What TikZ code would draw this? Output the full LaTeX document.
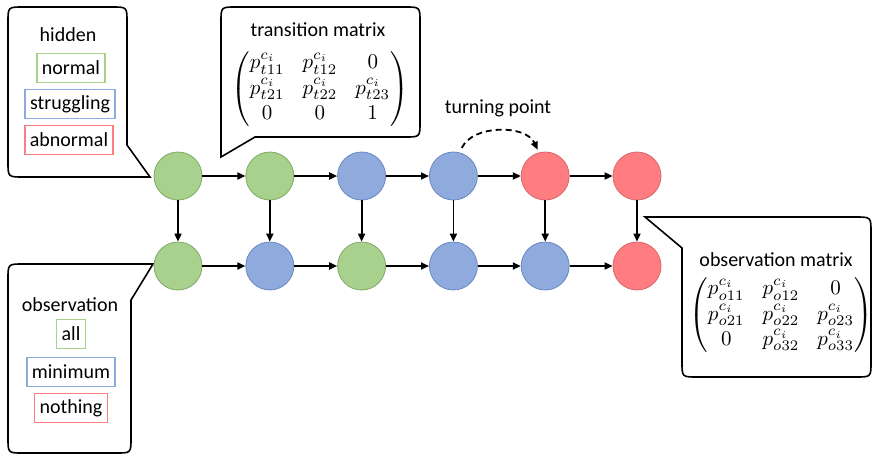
\documentclass[tikz,border=0pt]{standalone}
\usepackage{amsmath}
\usepackage{graphicx}
\usepackage{fontspec}
\setmainfont{Carlito}
\usetikzlibrary{arrows.meta}
\definecolor{gfill}{HTML}{A9D18E}
\definecolor{gline}{HTML}{7FA866}
\definecolor{bfill}{HTML}{8FAADC}
\definecolor{bline}{HTML}{6A88C0}
\definecolor{rfill}{HTML}{FF7C80}
\definecolor{rline}{HTML}{D9656A}
\tikzset{
  st/.style={circle, draw, line width=0.8pt, minimum size=48pt, inner sep=0pt},
  gst/.style={st, fill=gfill, draw=gline},
  bst/.style={st, fill=bfill, draw=bline},
  rst/.style={st, fill=rfill, draw=rline},
  conn/.style={line width=1.8pt, -{Triangle[length=8pt,width=7pt]}},
  callout/.style={line width=1.6pt, draw=black, fill=white},
  lbl/.style={font=\fontsize{20}{24}\selectfont, inner sep=0pt},
  legend/.style={font=\fontsize{20}{24}\selectfont, line width=1.3pt, inner xsep=5pt, minimum height=29pt, inner ysep=0pt},
  mat/.style={inner sep=0pt},
}
\newcommand{\matscale}[1]{\scalebox{2.1}{$\setlength{\arraycolsep}{4.3pt}#1$}}
\begin{document}
\begin{tikzpicture}[x=1pt,y=-1pt]
\useasboundingbox (0,0) rectangle (876,456);
% callouts
\draw[callout] (23,7) -- (112,7) .. controls (127,7) .. (127,22) -- (127,145) -- (150,177)
  -- (23,177) .. controls (8,177) .. (8,162) -- (8,22) .. controls (8,7) .. (23,7) -- cycle;
\draw[callout] (236,7) -- (405,7) .. controls (420,7) .. (420,22) -- (420,122) .. controls (420,137) .. (405,137)
  -- (255,137) -- (221,157) -- (221,22) .. controls (221,7) .. (236,7) -- cycle;
\draw[callout] (23,264) -- (153,264) -- (131,300) -- (131,438) .. controls (131,453) .. (116,453)
  -- (23,453) .. controls (8,453) .. (8,438) -- (8,279) .. controls (8,264) .. (23,264) -- cycle;
\draw[callout] (645,217) -- (855,217) .. controls (871,217) .. (871,232) -- (871,362) .. controls (871,377) .. (856,377)
  -- (697,377) .. controls (682,377) .. (682,362) -- (682,248) -- cycle;
% legend texts
\node[lbl] (hid) at (68,35) {hidden};
\node[legend, draw=gfill] (lnorm) at (71,68) {normal};
\node[legend, draw=bfill] (lstr) at (70,104) {struggling};
\node[legend, draw=rfill] (labn) at (69,140) {abnormal};
\node[lbl] (obs) at (70,305) {observation};
\node[legend, draw=gfill] (lall) at (71,334) {all};
\node[legend, draw=bfill] (lmin) at (71,372) {minimum};
\node[legend, draw=rfill] (lnot) at (71,408) {nothing};
% matrices
\node[lbl] (tmt) at (318,30) {transition matrix};
\node[mat] (tm) at (320,89) {\matscale{\begin{pmatrix}
p^{c_i}_{t11} & p^{c_i}_{t12} & 0\\
p^{c_i}_{t21} & p^{c_i}_{t22} & p^{c_i}_{t23}\\
0 & 0 & 1\end{pmatrix}}};
\node[lbl] (omt) at (776,260) {observation matrix};
\node[mat] (om) at (781,315) {\matscale{\begin{pmatrix}
p^{c_i}_{o11} & p^{c_i}_{o12} & 0\\
p^{c_i}_{o21} & p^{c_i}_{o22} & p^{c_i}_{o23}\\
0 & p^{c_i}_{o32} & p^{c_i}_{o33}\end{pmatrix}}};
\node[lbl] (tp) at (498,108) {turning point};
% states
\node[gst] (h1) at (178,176) {};
\node[gst] (h2) at (269.8,176) {};
\node[bst] (h3) at (361.6,176) {};
\node[bst] (h4) at (453.4,176) {};
\node[rst] (h5) at (545.2,176) {};
\node[rst] (h6) at (637,176) {};
\node[gst] (o1) at (178,266) {};
\node[bst] (o2) at (269.8,266) {};
\node[gst] (o3) at (361.6,266) {};
\node[bst] (o4) at (453.4,266) {};
\node[bst] (o5) at (545.2,266) {};
\node[rst] (o6) at (637,266) {};
\foreach \a/\b in {h1/h2,h2/h3,h3/h4,h4/h5,h5/h6,o1/o2,o2/o3,o3/o4,o4/o5,o5/o6}
  \draw[conn] (\a) -- (\b);
\foreach \i in {1,...,6}
  \draw[conn] (h\i) -- (o\i);
\draw[line width=1.8pt, dashed, dash pattern=on 6pt off 4pt, -{Triangle[length=8pt,width=7pt]}, shorten <=5pt, shorten >=3pt]
  (h4.75) to[out=65,in=115] (h5.105);
\end{tikzpicture}
\end{document}
